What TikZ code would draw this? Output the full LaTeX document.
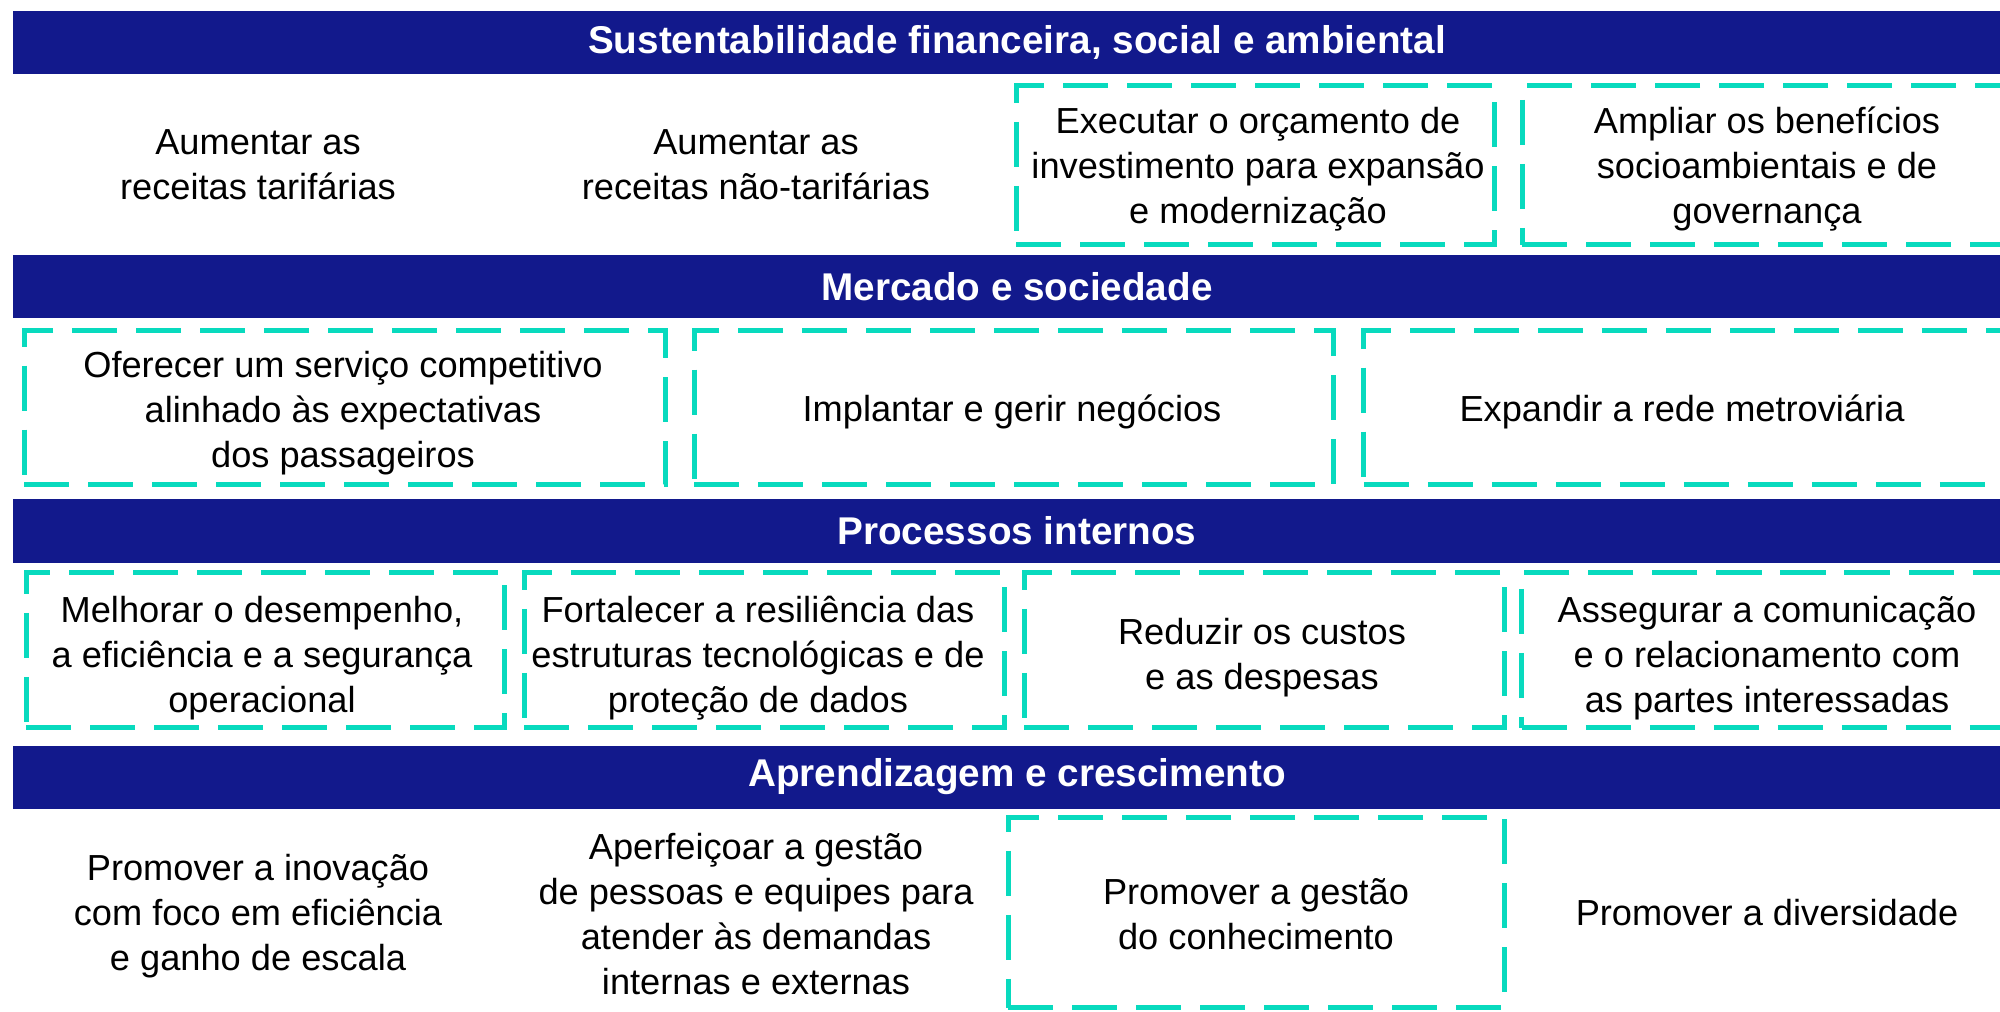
\documentclass[tikz,border=0pt]{standalone}
\usepackage{fontspec}
\setmainfont{Liberation Sans}
\definecolor{navy}{RGB}{18,25,140}
\definecolor{tq}{RGB}{8,218,190}
\tikzset{
  bar/.style={fill=navy, minimum width=20.06cm, minimum height=0.63cm, inner sep=0pt,
    text=white, font=\fontsize{11}{13}\selectfont\bfseries},
  dbox/.style={draw=tq, line width=1.42pt, dash pattern=on 12.8pt off 5.4pt,
    inner sep=0pt},
  cell/.style={inner sep=0pt, align=center, font=\fontsize{10.3}{12.8}\selectfont}
}
\begin{document}
\begin{tikzpicture}[x=0.01cm, y=-0.01cm]
\clip (0,0) rectangle (2000,1011);
\fill[white] (0,0) rectangle (2000,1011);

% bars
\node[bar] (b1) at (1017,42.5) {Sustentabilidade financeira, social e ambiental};
\node[bar] (b2) at (1017,286.5) {Mercado e sociedade};
\node[bar] (b3) at (1017,531) {Processos internos};
\node[bar] (b4) at (1017,777) {Aprendizagem e crescimento};

% row 1
\node[cell] (r1a) at (258,165) {Aumentar as\\receitas tarifárias};
\node[cell] (r1b) at (756,165) {Aumentar as\\receitas não-tarifárias};
\node[dbox, minimum width=4.78cm, minimum height=1.59cm] (r1c) at (1255.5,165) {};
\node[cell] (r1ct) at (1258,169) {Executar o orçamento de\\investimento para expansão\\e modernização};
\node[dbox, minimum width=4.89cm, minimum height=1.59cm] (r1d) at (1767,165) {};
\node[cell] (r1dt) at (1767,169) {Ampliar os benefícios\\socioambientais e de\\governança};

% row 2
\node[dbox, minimum width=6.41cm, minimum height=1.54cm] (r2a) at (345,407.5) {};
\node[cell] (r2at) at (343,413) {Oferecer um serviço competitivo\\alinhado às expectativas\\dos passageiros};
\node[dbox, minimum width=6.39cm, minimum height=1.54cm] (r2b) at (1014,407.5) {};
\node[cell] (r2bt) at (1012,412) {Implantar e gerir negócios};
\node[dbox, minimum width=6.40cm, minimum height=1.54cm] (r2c) at (1684,407.5) {};
\node[cell] (r2ct) at (1682,412) {Expandir a rede metroviária};

% row 3
\node[dbox, minimum width=4.78cm, minimum height=1.55cm] (r3a) at (265.5,650) {};
\node[cell] (r3at) at (262,658) {Melhorar o desempenho,\\a eficiência e a segurança\\operacional};
\node[dbox, minimum width=4.80cm, minimum height=1.55cm] (r3b) at (764.5,650) {};
\node[cell] (r3bt) at (758,658) {Fortalecer a resiliência das\\estruturas tecnológicas e de\\proteção de dados};
\node[dbox, minimum width=4.80cm, minimum height=1.55cm] (r3c) at (1264.5,650) {};
\node[cell] (r3ct) at (1262,658) {Reduzir os custos\\e as despesas};
\node[dbox, minimum width=4.90cm, minimum height=1.55cm] (r3d) at (1767,650) {};
\node[cell] (r3dt) at (1767,658) {Assegurar a comunicação\\e o relacionamento com\\as partes interessadas};

% row 4
\node[cell] (r4a) at (258,916) {Promover a inovação\\com foco em eficiência\\e ganho de escala};
\node[cell] (r4b) at (756,914) {Aperfeiçoar a gestão\\de pessoas e equipes para\\atender às demandas\\internas e externas};
\node[dbox, minimum width=4.96cm, minimum height=1.90cm] (r4c) at (1256.5,912.5) {};
\node[cell] (r4ct) at (1256,914) {Promover a gestão\\do conhecimento};
\node[cell] (r4d) at (1767,913) {Promover a diversidade};
\end{tikzpicture}
\end{document}
